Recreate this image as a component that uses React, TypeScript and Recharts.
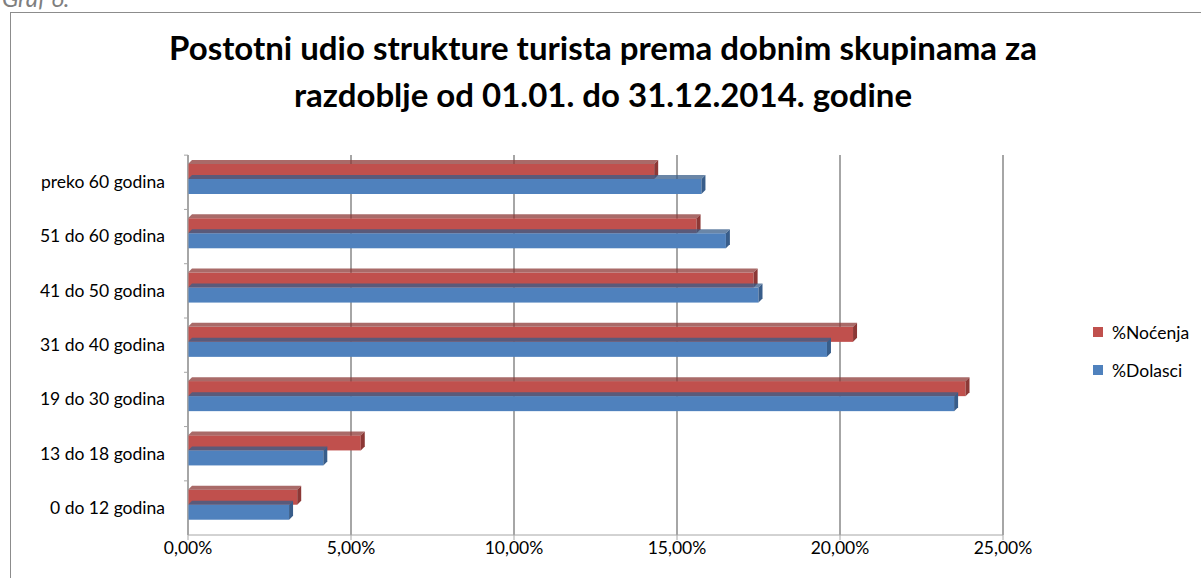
import React from "react";
import { BarChart, Bar, XAxis, YAxis, CartesianGrid } from "recharts";

const categories = [
  "preko 60 godina",
  "51 do 60 godina",
  "41 do 50 godina",
  "31 do 40 godina",
  "19 do 30 godina",
  "13 do 18 godina",
  "0 do 12 godina",
];
const nocenja = [14.3, 15.6, 17.35, 20.4, 23.85, 5.3, 3.35];
const dolasci = [15.75, 16.5, 17.5, 19.6, 23.5, 4.15, 3.1];
const xTicks = [0, 5, 10, 15, 20, 25];

const data = categories.map((name, i) => ({
  name,
  nocenja: nocenja[i],
  dolasci: dolasci[i],
}));

const FONT = "Lato, 'Open Sans', sans-serif";
const RED = "#C0504D";
const BLUE = "#4F81BD";

// bar with a little fake 3D depth: top face and right side
const Bar3D = (props: any) => {
  const { x, y, width, height, fill, dark } = props;
  const d = 4;
  const yy = y - 3;
  if (width <= 0) return null;
  return (
    <g>
      <rect x={x} y={yy} width={width} height={height} fill={fill} />
      <polygon
        points={`${x},${yy} ${x + d},${yy - d} ${x + width + d},${yy - d} ${x + width},${yy}`}
        fill={dark}
        opacity={0.75}
      />
      <polygon
        points={`${x + width},${yy} ${x + width + d},${yy - d} ${x + width + d},${yy + height - d} ${x + width},${yy + height}`}
        fill={dark}
      />
    </g>
  );
};

const CatTick = (props: any) => {
  const { x, y, payload } = props;
  return (
    <g>
      <line x1={x + 4} x2={x + 8} y1={y - 27} y2={y - 27} stroke="#A6A6A6" />
      <text x={x - 15} y={y} dy={6} textAnchor="end" fontSize={17.5} fill="#000" fontFamily={FONT}>
        {payload.value}
      </text>
    </g>
  );
};

const legendItems = [
  { label: "%Noćenja", color: RED },
  { label: "%Dolasci", color: BLUE },
];

export default function App() {
  return (
    <div
      style={{
        position: "fixed",
        left: 0,
        top: 0,
        width: 1201,
        height: 578,
        overflow: "hidden",
        background: "#fff",
      }}
    >
      <div
        style={{
          position: "absolute",
          left: 2,
          top: -17,
          fontFamily: FONT,
          fontStyle: "italic",
          fontSize: 24,
          color: "#7f7f7f",
        }}
      >
        Graf 6.
      </div>
      <div
        style={{
          position: "absolute",
          left: 10,
          top: 12,
          width: 1300,
          height: 700,
          border: "1px solid #8c8c8c",
        }}
      />
      <div
        style={{
          position: "absolute",
          left: 0,
          top: 24,
          width: 1206,
          textAlign: "center",
          fontFamily: FONT,
          fontWeight: 700,
          fontSize: 33,
          lineHeight: "47px",
          color: "#000",
        }}
      >
        Postotni udio strukture turista prema dobnim skupinama za
        <br />
        razdoblje od 01.01. do 31.12.2014. godine
      </div>
      <div style={{ position: "absolute", left: 0, top: 0 }}>
        <BarChart
          width={1201}
          height={578}
          data={data}
          layout="vertical"
          margin={{ top: 155, right: 198, bottom: 13, left: 18 }}
          barSize={15}
          barGap={0}
        >
          <CartesianGrid horizontal={false} stroke="#A6A6A6" strokeWidth={2} />
          <XAxis
            type="number"
            domain={[0, 25]}
            ticks={xTicks}
            tickFormatter={(v) => `${v.toFixed(2).replace(".", ",")}%`}
            tick={{ fontSize: 17.5, fill: "#000", fontFamily: FONT }}
            axisLine={{ stroke: "#A6A6A6" }}
            tickLine={{ stroke: "#A6A6A6" }}
            tickSize={5}
            height={30}
          />
          <YAxis
            type="category"
            dataKey="name"
            width={170}
            tick={<CatTick />}
            tickLine={false}
            axisLine={{ stroke: "#A6A6A6" }}
          />
          <Bar
            dataKey="nocenja"
            name="%Noćenja"
            fill={RED}
            shape={(p: any) => <Bar3D {...p} dark="#8C3836" />}
            isAnimationActive={false}
          />
          <Bar
            dataKey="dolasci"
            name="%Dolasci"
            fill={BLUE}
            shape={(p: any) => <Bar3D {...p} dark="#385D8A" />}
            isAnimationActive={false}
          />
        </BarChart>
      </div>
      <div
        style={{
          position: "absolute",
          left: 1093,
          top: 320,
          fontFamily: FONT,
          fontSize: 17.5,
          color: "#000",
        }}
      >
        {legendItems.map((it) => (
          <div key={it.label} style={{ display: "flex", alignItems: "center", height: 24, marginBottom: 14 }}>
            <span
              style={{ width: 10, height: 10, background: it.color, marginRight: 9, display: "inline-block" }}
            />
            {it.label}
          </div>
        ))}
      </div>
    </div>
  );
}
